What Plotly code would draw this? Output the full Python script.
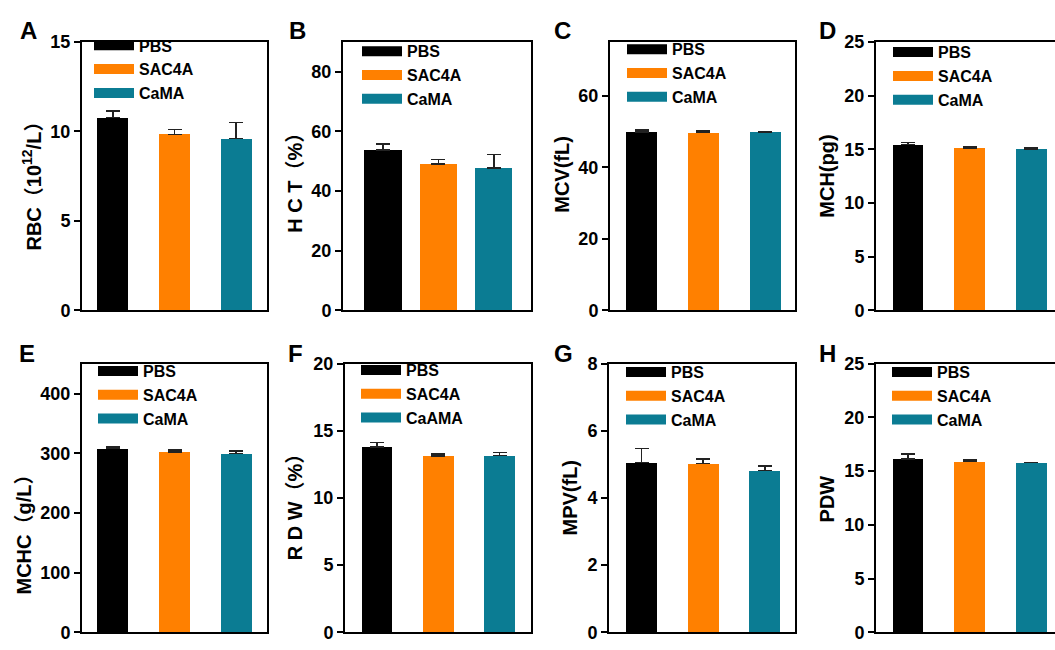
import plotly.graph_objects as go

# ---------------- data ----------------
groups = ["PBS", "SAC4A", "CaMA"]
groups_f = ["PBS", "SAC4A", "CaAMA"]          # legend text as printed in panel F
colors = ["#000000", "#FF8000", "#0B7C93"]

rbc = [10.77, 9.84, 9.60]
rbc_err = [0.38, 0.27, 0.90]
hct = [53.8, 49.0, 47.8]
hct_err = [2.1, 1.6, 4.5]
mcv = [49.9, 49.7, 49.8]
mcv_err = [0.55, 0.45, 0.2]
mch = [15.45, 15.11, 15.02]
mch_err = [0.2, 0.1, 0.1]
mchc = [308, 302.4, 299.8]
mchc_err = [2, 3, 4]
rdw = [13.81, 13.11, 13.16]
rdw_err = [0.32, 0.17, 0.24]
mpv = [5.06, 5.03, 4.82]
mpv_err = [0.41, 0.14, 0.14]
pdw = [16.12, 15.90, 15.81]
pdw_err = [0.45, 0.15, 0.0]

letters = ["A", "B", "C", "D", "E", "F", "G", "H"]
ytitles = ["RBC（10<sup>12</sup>/L）", "H C T（%）", "MCV(fL)", "MCH(pg)",
           "MCHC（g/L）", "R D W（%）", "MPV(fL)", "PDW"]
values = [rbc, hct, mcv, mch, mchc, rdw, mpv, pdw]
errors = [rbc_err, hct_err, mcv_err, mch_err, mchc_err, rdw_err, mpv_err, pdw_err]
yranges = [[0, 15], [0, 90], [0, 75], [0, 25], [0, 450], [0, 20], [0, 8], [0, 25]]
dticks = [5, 20, 20, 5, 100, 5, 2, 5]
legend_labels = [groups, groups, groups, groups, groups, groups_f, groups, groups]

# ---------------- layout geometry (pixels) ----------------
W, H = 1055, 650
FONT = "Arial, 'Liberation Sans', 'Noto Sans CJK SC', sans-serif"

# x0, x1, top, bottom, xrange, bar width, title cx, title cy, letter cx, letter cy, legend x, legend y
panels = [
    (82, 267, 33, 310, [-0.5, 2.5], 0.5, 32, 177, 28, 21, 89, 19),
    (343, 531, 33, 310, [-0.72, 2.67], 0.67, 295, 173, 297, 21, 357, 25),
    (610, 795, 33, 310, [-0.51, 2.48], 0.5, 562, 170, 562, 21, 622, 23),
    (876, 1055, 33, 310, [-0.52, 2.386], 0.5, 827, 172, 827, 21, 888, 26),
    (82, 267, 365, 642, [-0.5, 2.5], 0.5, 24, 536, 27, 354, 93, 355),
    (345, 531, 365, 642, [-0.52, 2.51], 0.5, 295, 508, 295, 354, 356, 354),
    (609, 795, 365, 642, [-0.53, 2.49], 0.5, 570, 503, 563, 354, 621, 356),
    (876, 1055, 365, 642, [-0.52, 2.386], 0.5, 827, 505, 827, 354, 887, 356),
]


def px(x):
    return x / W


def py(y):
    return 1 - y / H


fig = go.Figure()
layout = {}
annotations = []

for i, (x0, x1, top, bot, xr, bw, tcx, tcy, lcx, lcy, lgx, lgy) in enumerate(panels):
    n = "" if i == 0 else str(i + 1)
    xa, ya = "x" + n, "y" + n
    lg = "legend" + n

    fig.add_trace(go.Bar(
        x=groups, y=values[i], width=bw, xaxis=xa, yaxis=ya,
        marker=dict(color=colors, line=dict(width=0)),
        error_y=dict(type="data", array=errors[i], arrayminus=[0, 0, 0],
                     symmetric=False, color="#222222", thickness=1.6, width=7),
        showlegend=False,
    ))
    for j in range(3):
        fig.add_trace(go.Scatter(
            x=[None], y=[None], mode="lines", xaxis=xa, yaxis=ya,
            line=dict(color=colors[j], width=10),
            name=legend_labels[i][j], legend=lg, showlegend=True,
        ))

    cut = x1 >= W  # right-hand panels are cut by the page edge
    layout["xaxis" + n] = dict(
        domain=[px(x0), px(x1)], range=xr, anchor=ya,
        showline=True, linewidth=2, linecolor="black", mirror=True,
        showticklabels=False, ticks="", showgrid=False, zeroline=False,
        type="category", fixedrange=True,
    )
    layout["yaxis" + n] = dict(
        domain=[py(bot), py(top)], range=yranges[i], anchor=xa,
        showline=True, linewidth=2, linecolor="black", mirror=not cut,
        ticks="outside", ticklen=6, tickwidth=2, tickcolor="black",
        dtick=dticks[i], tick0=0, showgrid=False, zeroline=False,
        tickfont=dict(family=FONT, size=18, color="black", weight="bold"),
        fixedrange=True,
    )
    layout[lg] = dict(
        x=px(lgx), y=py(lgy), xanchor="left", yanchor="top",
        bgcolor="rgba(0,0,0,0)", borderwidth=0, itemwidth=40,
        font=dict(family=FONT, size=16, color="black", weight="bold"),
        tracegroupgap=0,
    )
    annotations.append(dict(
        x=px(tcx), y=py(tcy), xref="paper", yref="paper", text=ytitles[i],
        textangle=-90, showarrow=False, xanchor="center", yanchor="middle",
        font=dict(family=FONT, size=20, color="black", weight="bold"),
    ))
    annotations.append(dict(
        x=px(lcx), y=py(lcy), xref="paper", yref="paper", text=letters[i],
        showarrow=False, xanchor="center", yanchor="middle",
        font=dict(family=FONT, size=24, color="black", weight="bold"),
    ))

fig.update_layout(
    width=W, height=H,
    margin=dict(l=0, r=0, t=0, b=0),
    paper_bgcolor="white", plot_bgcolor="white",
    annotations=annotations,
    bargap=0,
    **layout,
)

fig.write_html("out.html")
